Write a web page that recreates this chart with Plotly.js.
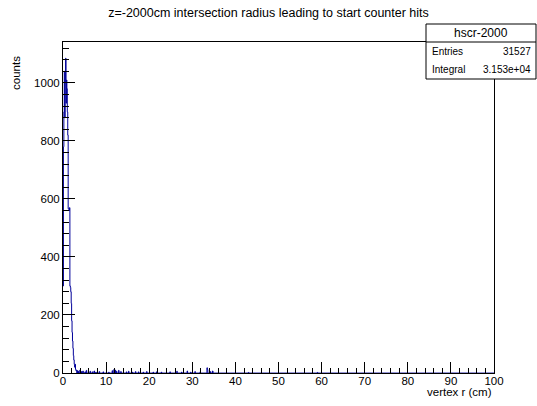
<!DOCTYPE html>
<html>
<head>
<meta charset="utf-8">
<script src="https://cdn.plot.ly/plotly-3.0.1.min.js"></script>
<style>
html,body{margin:0;padding:0;background:#fff;}
#chart{width:537px;height:406px;}
</style>
</head>
<body>
<div id="chart"></div>
<script>
// Histogram: 1000 bins, 0-100 cm, width 0.1 cm
const binWidth = 0.1;
const nBins = 1000;
// peak region, bins starting at r = 0.0
const peakCounts = [300, 780, 900, 1040, 880, 1000, 1085, 930, 1010, 980,
                    900, 820, 566, 566, 560, 570, 300, 295, 280, 240,
                    180, 140, 110, 85, 60, 45, 30, 20, 30, 12, 8, 10];
// sparse tail: bin lower edge (cm) and counts
const tailR = [3.3, 3.5, 3.9, 4.3, 4.6, 5.1, 5.4, 5.9, 6.3, 6.8, 7.2, 7.6, 8.4, 9.3,
               10.6, 11.4, 11.8, 12.1, 12.4, 12.9, 13.4, 14.7, 15.2, 16.1, 16.8, 17.5,
               18.6, 19.4, 20.9, 21.7, 22.8, 24.8, 26.4, 27.5, 28.8, 29.6, 30.6, 31.8,
               33.4, 33.5, 34.2, 34.7, 43.0, 59.0];
const tailCounts = [8, 6, 10, 5, 7, 4, 9, 5, 6, 4, 7, 3, 5, 4,
                    3, 8, 12, 10, 6, 9, 5, 4, 6, 3, 5, 4,
                    3, 5, 3, 4, 3, 4, 6, 3, 7, 3, 5, 4,
                    18, 12, 5, 7, 2, 2];
const xTickVals = [0,10,20,30,40,50,60,70,80,90,100];
const yTickVals = [0,200,400,600,800,1000];
const statsName = "hscr-2000";
const statsEntries = "31527";
const statsIntegral = "3.153e+04";

const counts = new Array(nBins).fill(0);
peakCounts.forEach((c,i)=>{counts[i]=c;});
tailR.forEach((r,i)=>{counts[Math.round(r/binWidth)] = tailCounts[i];});
const xs = [], ys = [];
for (let i=0;i<nBins;i++){ xs.push(i*binWidth); ys.push(counts[i]); }
xs.push(nBins*binWidth); ys.push(counts[nBins-1]);

const L=63, R=494, T=42, B=373;
const W=R-L, H=B-T;
const px = v => (v-L)/W;
const py = v => (B-v)/H;
const font = {family:"Liberation Sans, Arial, sans-serif", color:"#000"};

const data = [{
  type:'scatter', mode:'lines', x:xs, y:ys,
  line:{shape:'hv', color:'#000099', width:1},
  hoverinfo:'skip'
}];

const layout = {
  width:537, height:406,
  margin:{l:L, r:537-R, t:T, b:406-B},
  paper_bgcolor:'#fff', plot_bgcolor:'#fff',
  showlegend:false,
  title:{text:"z=-2000cm intersection radius leading to start counter hits",
         font:Object.assign({size:12.5}, font), x:0.5, xref:'container', xanchor:'center',
         y:1-13/406, yref:'container', yanchor:'middle'},
  xaxis:{range:[0,100], tickvals:xTickVals, ticktext:xTickVals.map(String),
         ticks:'inside', ticklen:11, tickwidth:1, tickcolor:'#000',
         showline:true, linecolor:'#000', linewidth:1, mirror:true,
         showgrid:false, zeroline:false,
         minor:{ticks:'inside', ticklen:5, dtick:2, tickcolor:'#000', tickwidth:1, showgrid:false},
         tickfont:Object.assign({size:11.5}, font), ticklabelstandoff:-3},
  yaxis:{range:[0,1141], tickvals:yTickVals, ticktext:yTickVals.map(String),
         ticks:'inside', ticklen:12, tickwidth:1, tickcolor:'#000',
         showline:true, linecolor:'#000', linewidth:1, mirror:true,
         showgrid:false, zeroline:false,
         minor:{ticks:'inside', ticklen:6, dtick:40, tickcolor:'#000', tickwidth:1, showgrid:false},
         tickfont:Object.assign({size:11.5}, font)},
  shapes:[
    {type:'rect', xref:'paper', yref:'paper', x0:px(426), x1:px(536), y0:py(79), y1:py(24),
     line:{color:'#000', width:1}, fillcolor:'#fff', layer:'above'},
    {type:'line', xref:'paper', yref:'paper', x0:px(426), x1:px(536), y0:py(42), y1:py(42),
     line:{color:'#000', width:1}, layer:'above'}
  ],
  annotations:[
    {text:"counts", xref:'paper', yref:'paper', x:px(16), y:py(73), textangle:-90,
     xanchor:'center', yanchor:'middle', showarrow:false, font:Object.assign({size:11.5}, font)},
    {text:"vertex r (cm)", xref:'paper', yref:'paper', x:1, y:py(392.5),
     xanchor:'right', yanchor:'middle', showarrow:false, font:Object.assign({size:11.5}, font)},
    {text:statsName, xref:'paper', yref:'paper', x:px(481), y:py(33),
     xanchor:'center', yanchor:'middle', showarrow:false, font:Object.assign({size:12}, font)},
    {text:"Entries", xref:'paper', yref:'paper', x:px(430), y:py(51),
     xanchor:'left', yanchor:'middle', showarrow:false, font:Object.assign({size:10}, font)},
    {text:statsEntries, xref:'paper', yref:'paper', x:px(533), y:py(51),
     xanchor:'right', yanchor:'middle', showarrow:false, font:Object.assign({size:10}, font)},
    {text:"Integral", xref:'paper', yref:'paper', x:px(430), y:py(69),
     xanchor:'left', yanchor:'middle', showarrow:false, font:Object.assign({size:10}, font)},
    {text:statsIntegral, xref:'paper', yref:'paper', x:px(533), y:py(69),
     xanchor:'right', yanchor:'middle', showarrow:false, font:Object.assign({size:10}, font)}
  ]
};
Plotly.newPlot('chart', data, layout, {staticPlot:true, displayModeBar:false});
</script>
</body>
</html>
